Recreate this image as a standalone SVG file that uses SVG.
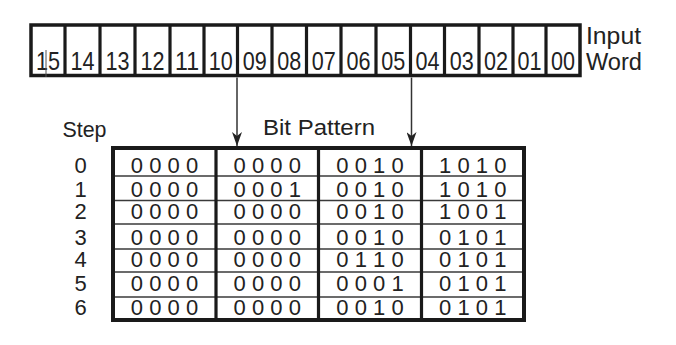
<svg xmlns="http://www.w3.org/2000/svg" width="676" height="345" viewBox="0 0 676 345">
<style>
text{font-family:"Liberation Sans","Arial",sans-serif;fill:#222}
.bit{font-size:26px;text-anchor:middle;font-family:"Liberation Sans Narrow","Liberation Sans",sans-serif}
.lbl{font-size:23px}
.hd{font-size:21.5px}
.cell{font-size:22px;text-anchor:middle}
.step{font-size:22px;text-anchor:middle}
.box{fill:#fff;stroke:#1a1a1a;stroke-width:3.5}
.div{stroke:#1a1a1a;stroke-width:3.2}
.row{stroke:#3a3a3a;stroke-width:1.6}
.conn{stroke:#333;stroke-width:1.5;fill:none}
</style>
<defs>
<marker id="ah" viewBox="0 0 14 10" refX="14" refY="5" markerWidth="14" markerHeight="10" markerUnits="userSpaceOnUse" orient="auto">
<path d="M0,0 L14,5 L0,10 L4,5 Z" fill="#222"/>
</marker>
</defs>
<rect width="676" height="345" fill="#fff"/>

<g id="input-word">
<rect class="box" x="31" y="25" width="549" height="50.5"/>
<line class="div" x1="65" y1="25" x2="65" y2="75.5"/>
<line class="div" x1="100" y1="25" x2="100" y2="75.5"/>
<line class="div" x1="135" y1="25" x2="135" y2="75.5"/>
<line class="div" x1="170" y1="25" x2="170" y2="75.5"/>
<line class="div" x1="204" y1="25" x2="204" y2="75.5"/>
<line class="div" x1="237.5" y1="25" x2="237.5" y2="75.5"/>
<line class="div" x1="272" y1="25" x2="272" y2="75.5"/>
<line class="div" x1="306.5" y1="25" x2="306.5" y2="75.5"/>
<line class="div" x1="341" y1="25" x2="341" y2="75.5"/>
<line class="div" x1="376" y1="25" x2="376" y2="75.5"/>
<line class="div" x1="410.5" y1="25" x2="410.5" y2="75.5"/>
<line class="div" x1="444.5" y1="25" x2="444.5" y2="75.5"/>
<line class="div" x1="479" y1="25" x2="479" y2="75.5"/>
<line class="div" x1="513" y1="25" x2="513" y2="75.5"/>
<line class="div" x1="546" y1="25" x2="546" y2="75.5"/>
<text class="bit" x="48" y="70" textLength="24" lengthAdjust="spacingAndGlyphs">15</text>
<text class="bit" x="82.5" y="70" textLength="24" lengthAdjust="spacingAndGlyphs">14</text>
<text class="bit" x="117.5" y="70" textLength="24" lengthAdjust="spacingAndGlyphs">13</text>
<text class="bit" x="152.5" y="70" textLength="24" lengthAdjust="spacingAndGlyphs">12</text>
<text class="bit" x="187" y="70" textLength="24" lengthAdjust="spacingAndGlyphs">11</text>
<text class="bit" x="220.75" y="70" textLength="24" lengthAdjust="spacingAndGlyphs">10</text>
<text class="bit" x="254.75" y="70" textLength="24" lengthAdjust="spacingAndGlyphs">09</text>
<text class="bit" x="289.25" y="70" textLength="24" lengthAdjust="spacingAndGlyphs">08</text>
<text class="bit" x="323.75" y="70" textLength="24" lengthAdjust="spacingAndGlyphs">07</text>
<text class="bit" x="358.5" y="70" textLength="24" lengthAdjust="spacingAndGlyphs">06</text>
<text class="bit" x="393.25" y="70" textLength="24" lengthAdjust="spacingAndGlyphs">05</text>
<text class="bit" x="427.5" y="70" textLength="24" lengthAdjust="spacingAndGlyphs">04</text>
<text class="bit" x="461.75" y="70" textLength="24" lengthAdjust="spacingAndGlyphs">03</text>
<text class="bit" x="496" y="70" textLength="24" lengthAdjust="spacingAndGlyphs">02</text>
<text class="bit" x="529.5" y="70" textLength="24" lengthAdjust="spacingAndGlyphs">01</text>
<text class="bit" x="563" y="70" textLength="24" lengthAdjust="spacingAndGlyphs">00</text>
<line x1="46" y1="50" x2="46" y2="77" stroke="#555" stroke-width="1"/>
<text class="lbl" x="586" y="43.5" textLength="55" lengthAdjust="spacingAndGlyphs">Input</text>
<text class="lbl" x="586" y="70" textLength="56" lengthAdjust="spacingAndGlyphs">Word</text>
</g>

<g id="step-label">
<text class="hd" x="62.5" y="136.5" textLength="44" lengthAdjust="spacingAndGlyphs">Step</text>
</g>

<g id="bit-pattern-label">
<text class="hd" x="263" y="135" textLength="112" lengthAdjust="spacingAndGlyphs">Bit Pattern</text>
</g>

<g id="step-numbers">
<text class="step" x="80.5" y="172.5">0</text>
<text class="step" x="80.5" y="196.5">1</text>
<text class="step" x="80.5" y="218.5">2</text>
<text class="step" x="80.5" y="245">3</text>
<text class="step" x="80.5" y="266.5">4</text>
<text class="step" x="80.5" y="290.5">5</text>
<text class="step" x="80.5" y="315">6</text>
</g>

<g id="bit-table">
<rect x="113" y="148" width="411" height="172" fill="#fff"/>
<line class="row" x1="113" y1="176" x2="524" y2="176"/>
<line class="row" x1="113" y1="200.5" x2="524" y2="200.5"/>
<line class="row" x1="113" y1="224" x2="524" y2="224"/>
<line class="row" x1="113" y1="249" x2="524" y2="249"/>
<line class="row" x1="113" y1="272" x2="524" y2="272"/>
<line class="row" x1="113" y1="297" x2="524" y2="297"/>
<line class="div" x1="216" y1="148" x2="216" y2="320"/>
<line class="div" x1="318.5" y1="148" x2="318.5" y2="320"/>
<line class="div" x1="421.5" y1="148" x2="421.5" y2="320"/>
<rect x="113" y="148" width="411" height="172" fill="none" stroke="#1a1a1a" stroke-width="4"/>

<text class="cell" x="164.5" y="172.5">0 0 0 0</text>
<text class="cell" x="267.25" y="172.5">0 0 0 0</text>
<text class="cell" x="370" y="172.5">0 0 1 0</text>
<text class="cell" x="472.75" y="172.5">1 0 1 0</text>

<text class="cell" x="164.5" y="196.5">0 0 0 0</text>
<text class="cell" x="267.25" y="196.5">0 0 0 1</text>
<text class="cell" x="370" y="196.5">0 0 1 0</text>
<text class="cell" x="472.75" y="196.5">1 0 1 0</text>

<text class="cell" x="164.5" y="218.5">0 0 0 0</text>
<text class="cell" x="267.25" y="218.5">0 0 0 0</text>
<text class="cell" x="370" y="218.5">0 0 1 0</text>
<text class="cell" x="472.75" y="218.5">1 0 0 1</text>

<text class="cell" x="164.5" y="245">0 0 0 0</text>
<text class="cell" x="267.25" y="245">0 0 0 0</text>
<text class="cell" x="370" y="245">0 0 1 0</text>
<text class="cell" x="472.75" y="245">0 1 0 1</text>

<text class="cell" x="164.5" y="266.5">0 0 0 0</text>
<text class="cell" x="267.25" y="266.5">0 0 0 0</text>
<text class="cell" x="370" y="266.5">0 1 1 0</text>
<text class="cell" x="472.75" y="266.5">0 1 0 1</text>

<text class="cell" x="164.5" y="290.5">0 0 0 0</text>
<text class="cell" x="267.25" y="290.5">0 0 0 0</text>
<text class="cell" x="370" y="290.5">0 0 0 1</text>
<text class="cell" x="472.75" y="290.5">0 1 0 1</text>

<text class="cell" x="164.5" y="315">0 0 0 0</text>
<text class="cell" x="267.25" y="315">0 0 0 0</text>
<text class="cell" x="370" y="315">0 0 1 0</text>
<text class="cell" x="472.75" y="315">0 1 0 1</text>
</g>

<g id="connectors">
<line class="conn" x1="237" y1="77.5" x2="237" y2="146" marker-end="url(#ah)"/>
<line class="conn" x1="411.5" y1="77.5" x2="411.5" y2="146" marker-end="url(#ah)"/>
</g>
</svg>
